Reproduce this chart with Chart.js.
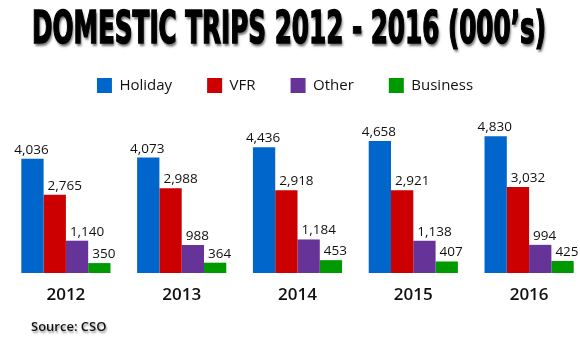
<!DOCTYPE html>
<html><head><meta charset="utf-8">
<script src="https://cdn.jsdelivr.net/npm/chart.js@4"></script>
<style>
html,body{margin:0;padding:0;width:580px;height:355px;overflow:hidden;background:#fff;position:relative}
#wrap{position:absolute;left:-17px;top:0;width:604px;height:355px}
#tt{position:absolute;left:289px;top:4px;white-space:nowrap;font-family:"DejaVu Sans Condensed";font-weight:bold;font-size:44px;line-height:48px;color:#000;-webkit-text-stroke:1.5px #000;text-shadow:2px 3px 3px rgba(0,0,0,0.55);transform-origin:0 0}
#source{position:absolute;left:31px;top:317px;font-family:"Open Sans";font-weight:600;font-size:13px;color:#111;text-shadow:1px 2px 2px rgba(0,0,0,0.4)}
</style></head><body>
<div id="wrap"><canvas id="c"></canvas></div>
<div id="tt">DOMESTIC TRIPS 2012 - 2016 (000’s)</div>
<div id="source">Source: CSO</div>
<script>
const years = ['2012','2013','2014','2015','2016'];
const seriesNames = ['Holiday','VFR','Other','Business'];
const holiday = [4036,4073,4436,4658,4830];
const vfr = [2765,2988,2918,2921,3032];
const other = [1140,988,1184,1138,994];
const business = [350,364,453,407,425];
const colors = ['#0066CC','#CC0000','#663399','#009900'];

const tt = document.getElementById('tt');
const w = tt.getBoundingClientRect().width;
const k = 514 / w;
tt.style.transform = 'scaleX(' + k + ') translateX(-50%)';

function fmt(v){ return String(v).replace(/\B(?=(\d{3})+(?!\d))/g, ','); }

const valueLabels = {
  id: 'valueLabels',
  afterDatasetsDraw(chart) {
    const ctx = chart.ctx;
    ctx.save();
    ctx.font = '13.5px "Open Sans"';
    ctx.fillStyle = '#111';
    ctx.textBaseline = 'alphabetic';
    chart.data.datasets.forEach((ds, di) => {
      const meta = chart.getDatasetMeta(di);
      meta.data.forEach((bar, i) => {
        if (di === 0) {
          ctx.textAlign = 'center';
          ctx.fillText(fmt(ds.data[i]), bar.x - 1, bar.y - 5);
        } else {
          ctx.textAlign = 'left';
          ctx.fillText(fmt(ds.data[i]), bar.x - bar.width / 2 + 4, bar.y - 5);
        }
      });
    });
    ctx.restore();
    ctx.shadowColor = 'rgba(0,0,0,0.45)';
    ctx.shadowOffsetX = 1; ctx.shadowOffsetY = 2; ctx.shadowBlur = 2;
  },
  afterDraw(chart) {
    const c = chart.ctx;
    c.shadowColor = 'rgba(0,0,0,0)'; c.shadowBlur = 0; c.shadowOffsetX = 0; c.shadowOffsetY = 0;
  }
};

const dataArrays = [holiday, vfr, other, business];
new Chart(document.getElementById('c'), {
  type: 'bar',
  data: {
    labels: years,
    datasets: seriesNames.map((n, i) => ({
      label: n, data: dataArrays[i], backgroundColor: colors[i], borderWidth: 0,
      barPercentage: 1, categoryPercentage: 0.77
    }))
  },
  options: {
    responsive: true, maintainAspectRatio: false, animation: false,
    layout: { padding: { top: 43, bottom: 0, left: 0, right: 0 } },
    plugins: {
      title: { display: false },
      tooltip: { enabled: false },
      legend: {
        position: 'top',
        labels: { boxWidth: 15, boxHeight: 15, padding: 35, color: '#111',
          font: { family: 'Open Sans', size: 15 } }
      }
    },
    scales: {
      x: {
        z: 1,
        grid: { display: false, drawTicks: false },
        border: { display: false },
        ticks: { color: '#111', padding: 12, font: { family: 'Open Sans', size: 17, weight: '600' } },
        afterFit(s) { s.height = 82; }
      },
      y: {
        min: 0, max: 6000,
        grid: { display: false, drawTicks: false },
        border: { display: false },
        ticks: { display: false },
        afterFit(s) { s.width = 25; }
      }
    }
  },
  plugins: [valueLabels]
});
</script>
</body></html>
